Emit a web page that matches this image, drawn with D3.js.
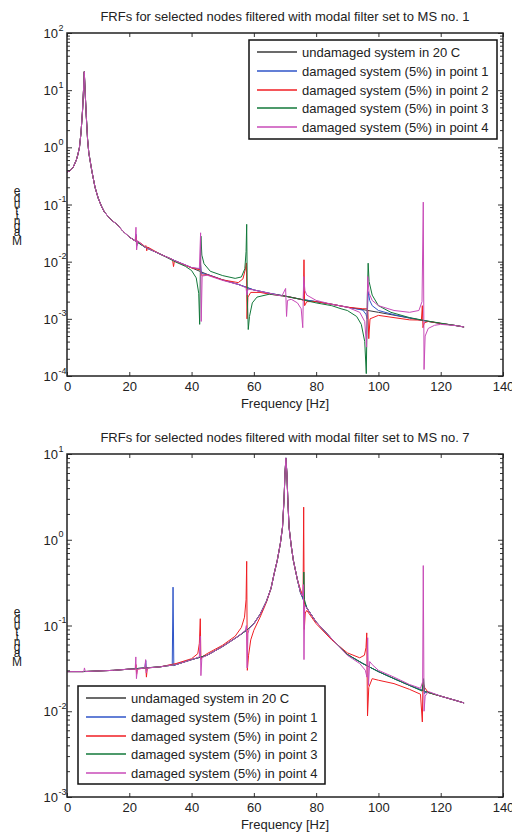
<!DOCTYPE html>
<html>
<head>
<meta charset="utf-8">
<script src="https://cdn.jsdelivr.net/npm/d3@7"></script>
<style>
  body { margin: 0; background: #fff; }
  text { font-family: "Liberation Sans", Arial, Helvetica, sans-serif; fill: #222; }
</style>
</head>
<body>
<svg id="chart"></svg>
<script>
const width = 512;
const height = 832;

const xTickValues = [0, 20, 40, 60, 80, 100, 120, 140];
const seriesLabels = [
    'undamaged system in 20 C',
    'damaged system (5%) in point 1',
    'damaged system (5%) in point 2',
    'damaged system (5%) in point 3',
    'damaged system (5%) in point 4'
];
const seriesColors = ['#3a3a3a', '#2f55c8', '#f01e23', '#12783a', '#c84bb8'];
const titles = [
    'FRFs for selected nodes filtered with modal filter set to MS no. 1',
    'FRFs for selected nodes filtered with modal filter set to MS no. 7'
];
const xLabel = 'Frequency [Hz]';
const yLabelLetters = ['M', 'a', 'g', 'n', 'i', 't', 'u', 'd', 'e'];

// ---- MS no. 1 : [frequency, magnitude]
const ms1Undamaged = [[0,0.37],[1,0.39],[2,0.45],[3,0.6],[3.5,0.75],[4,1.0],[4.5,1.8],[5,4.5],[5.3,10],[5.55,21],[5.8,10],[6.2,3.5],[6.6,1.4],[7,0.8],[8,0.38],[9,0.2],[10,0.13],[11,0.095],[12,0.074],[14,0.055],[16,0.045],[18,0.034],[20,0.027],[22,0.023],[25,0.018],[30,0.0135],[35,0.0102],[40,0.0078],[45,0.006],[50,0.0048],[55,0.004],[60,0.0032],[65,0.0028],[70,0.0025],[75,0.0022],[80,0.002],[85,0.0018],[90,0.0016],[95,0.00145],[100,0.0013],[105,0.00116],[110,0.00103],[115,0.00092],[120,0.00083],[125,0.00076],[127.5,0.00072]];
const ms1Point1 = [[0,0.37],[1,0.39],[2,0.45],[3,0.6],[3.5,0.75],[4,1.0],[4.5,1.8],[5,4.5],[5.3,10],[5.55,21],[5.8,10],[6.2,3.5],[6.6,1.4],[7,0.8],[8,0.38],[9,0.2],[10,0.13],[11,0.095],[12,0.074],[14,0.055],[16,0.045],[18,0.034],[20,0.027],[21.9,0.023],[22.2,0.03],[22.4,0.019],[22.7,0.023],[25,0.018],[30,0.0135],[35,0.0102],[40,0.0079],[42.6,0.0074],[42.9,0.0088],[43.2,0.0062],[45,0.006],[50,0.0048],[55,0.004],[60,0.0032],[65,0.0028],[70,0.0025],[75,0.0022],[80,0.002],[85,0.0018],[90,0.0016],[95,0.00142],[96,0.0012],[96.4,0.001],[96.7,0.003],[97.2,0.0021],[98,0.0017],[100,0.0014],[105,0.00118],[110,0.00104],[115,0.00092],[120,0.00083],[125,0.00076],[127.5,0.00072]];
const ms1Point2 = [[0,0.37],[1,0.39],[2,0.45],[3,0.6],[3.5,0.75],[4,1.0],[4.5,1.8],[5,4.5],[5.3,10],[5.55,21],[5.8,10],[6.2,3.5],[6.6,1.4],[7,0.8],[8,0.38],[9,0.2],[10,0.13],[11,0.095],[12,0.074],[14,0.055],[16,0.045],[18,0.034],[20,0.027],[21.9,0.023],[22.2,0.028],[22.4,0.02],[22.7,0.023],[25,0.0185],[25.4,0.019],[25.6,0.0155],[25.9,0.018],[30,0.0135],[33.9,0.0108],[34.2,0.0082],[34.5,0.0103],[40,0.0078],[42.8,0.0072],[43.1,0.0058],[45,0.0059],[50,0.0048],[55,0.0043],[56.5,0.005],[57.3,0.0075],[57.6,0.0095],[57.8,0.001],[58.1,0.0024],[59,0.0029],[62,0.0029],[65,0.0027],[70,0.0025],[75,0.0022],[75.9,0.0021],[76.1,0.0108],[76.3,0.0017],[77,0.002],[80,0.002],[85,0.0018],[90,0.0016],[95,0.0015],[96.3,0.0015],[96.6,0.0014],[96.9,0.00045],[97.3,0.001],[100,0.00115],[105,0.00105],[110,0.00096],[113.8,0.00095],[114.1,0.0017],[114.3,0.0007],[114.7,0.00085],[116,0.0009],[120,0.00083],[125,0.00076],[127.5,0.00072]];
const ms1Point3 = [[0,0.37],[1,0.39],[2,0.45],[3,0.6],[3.5,0.75],[4,1.0],[4.5,1.8],[5,4.5],[5.3,10],[5.55,21],[5.8,10],[6.2,3.5],[6.6,1.4],[7,0.8],[8,0.38],[9,0.2],[10,0.13],[11,0.095],[12,0.074],[14,0.055],[16,0.045],[18,0.034],[20,0.027],[22,0.023],[25,0.018],[30,0.0135],[35,0.0098],[38,0.0083],[40,0.007],[41.5,0.0052],[42.3,0.0028],[42.6,0.0008],[42.8,0.006],[43.0,0.028],[43.3,0.013],[44,0.0092],[46,0.0068],[50,0.0057],[54,0.0051],[56,0.0054],[57.1,0.0075],[57.5,0.015],[57.7,0.045],[57.9,0.0025],[58.2,0.00065],[58.6,0.0011],[59.5,0.0019],[61,0.0024],[65,0.0027],[70,0.0025],[75,0.0022],[80,0.0019],[85,0.0017],[88,0.0015],[90,0.0014],[93,0.0011],[94.5,0.0008],[95.6,0.0004],[96.1,0.00011],[96.45,0.0025],[96.7,0.0094],[97,0.0045],[98,0.0026],[100,0.0017],[104,0.0013],[110,0.00105],[115,0.00093],[120,0.00084],[125,0.00076],[127.5,0.00072]];
const ms1Point4 = [[0,0.37],[1,0.39],[2,0.45],[3,0.6],[3.5,0.75],[4,1.0],[4.5,1.8],[5,4.5],[5.3,10],[5.55,21],[5.8,10],[6.2,3.5],[6.6,1.4],[7,0.8],[8,0.38],[9,0.2],[10,0.13],[11,0.095],[12,0.074],[14,0.055],[16,0.045],[18,0.034],[20,0.027],[21.9,0.023],[22.15,0.04],[22.35,0.016],[22.7,0.023],[25,0.018],[30,0.0135],[35,0.0102],[40,0.0079],[42.5,0.0076],[42.9,0.032],[43.1,0.0009],[43.4,0.0056],[45,0.0058],[50,0.0047],[55,0.004],[57.5,0.0035],[57.75,0.0026],[58.1,0.0033],[60,0.0032],[65,0.0028],[69,0.0025],[70.2,0.0034],[70.5,0.0011],[70.8,0.0021],[72,0.0022],[74,0.0019],[75.2,0.0015],[75.7,0.0007],[76.0,0.0055],[76.4,0.0031],[77,0.0026],[80,0.0021],[85,0.0018],[90,0.0016],[94,0.0013],[95.6,0.0009],[96.2,0.00032],[96.55,0.0055],[97,0.0028],[98,0.0021],[100,0.0017],[105,0.0014],[110,0.0013],[113,0.0014],[114,0.002],[114.4,0.11],[114.65,0.00013],[115,0.0005],[116,0.00068],[118,0.00077],[120,0.0008],[125,0.00076],[127.5,0.00072]];

// ---- MS no. 7 : [frequency, magnitude]
const ms7Undamaged = [[0,0.029],[5,0.029],[10,0.0295],[15,0.030],[20,0.031],[25,0.032],[30,0.033],[35,0.035],[40,0.040],[45,0.045],[50,0.057],[55,0.075],[58,0.09],[60,0.105],[62,0.135],[64,0.19],[65.5,0.27],[66.5,0.4],[67.5,0.57],[68.5,0.9],[69.2,1.4],[69.7,3],[70.0,6],[70.3,9],[70.6,6],[70.9,3],[71.3,1.4],[72,0.85],[72.7,0.57],[74,0.34],[75,0.24],[77,0.16],[80,0.11],[85,0.07],[90,0.046],[95,0.036],[100,0.029],[105,0.024],[110,0.020],[115,0.017],[120,0.015],[125,0.0133],[127.5,0.0125]];
const ms7Point1 = [[0,0.029],[5,0.029],[10,0.0295],[15,0.030],[20,0.031],[25,0.032],[25.3,0.039],[25.5,0.03],[25.8,0.032],[30,0.033],[33.8,0.035],[34.05,0.28],[34.3,0.034],[35,0.035],[40,0.040],[45,0.045],[50,0.057],[55,0.075],[58,0.09],[60,0.105],[62,0.135],[64,0.19],[65.5,0.27],[66.5,0.4],[67.5,0.57],[68.5,0.9],[69.2,1.4],[69.7,3],[70.0,6],[70.3,9],[70.6,6],[70.9,3],[71.3,1.4],[72,0.85],[72.7,0.57],[74,0.34],[75,0.24],[77,0.16],[80,0.11],[85,0.07],[90,0.046],[95,0.036],[100,0.029],[105,0.024],[110,0.020],[114,0.0175],[114.5,0.02],[114.8,0.016],[115.5,0.017],[120,0.015],[125,0.0133],[127.5,0.0125]];
const ms7Point2 = [[0,0.029],[5,0.029],[10,0.0295],[15,0.030],[20,0.031],[21.9,0.031],[22.15,0.035],[22.35,0.027],[22.6,0.031],[25,0.032],[25.3,0.033],[25.5,0.025],[25.8,0.032],[30,0.033],[35,0.036],[40,0.041],[42,0.047],[42.5,0.062],[42.8,0.12],[43.0,0.04],[43.4,0.043],[45,0.047],[50,0.059],[54,0.075],[56,0.095],[57,0.125],[57.5,0.2],[57.7,0.56],[57.9,0.03],[58.3,0.045],[59,0.068],[60,0.088],[62,0.125],[64,0.185],[65.5,0.27],[66.5,0.4],[67.5,0.57],[68.5,0.9],[69.2,1.4],[69.7,3],[70.0,6],[70.3,8.8],[70.6,6],[70.9,3],[71.3,1.4],[72,0.85],[72.7,0.57],[74,0.34],[75,0.26],[75.8,0.22],[76.0,2.4],[76.2,0.09],[76.5,0.14],[77,0.15],[80,0.105],[85,0.068],[90,0.048],[94,0.042],[95.5,0.045],[96,0.055],[96.25,0.082],[96.5,0.0088],[96.9,0.019],[98,0.024],[100,0.023],[105,0.021],[110,0.018],[113.5,0.0158],[114.1,0.0075],[114.3,0.022],[114.8,0.019],[116,0.0165],[120,0.015],[125,0.0133],[127.5,0.0125]];
const ms7Point3 = [[0,0.029],[5,0.029],[10,0.0295],[15,0.030],[20,0.031],[25,0.032],[30,0.033],[35,0.035],[40,0.040],[45,0.045],[50,0.057],[55,0.075],[58,0.09],[60,0.105],[62,0.135],[64,0.19],[65.5,0.27],[66.5,0.4],[67.5,0.57],[68.5,0.9],[69.2,1.4],[69.7,3],[70.0,6],[70.3,9],[70.6,6],[70.9,3],[71.3,1.4],[72,0.85],[72.7,0.57],[74,0.34],[75,0.24],[75.9,0.21],[76.05,0.42],[76.25,0.2],[77,0.16],[80,0.11],[85,0.07],[90,0.046],[95,0.036],[100,0.029],[105,0.024],[110,0.020],[114,0.0172],[114.5,0.024],[114.8,0.017],[120,0.015],[125,0.0133],[127.5,0.0125]];
const ms7Point4 = [[0,0.029],[5,0.029],[5.4,0.029],[5.6,0.032],[5.9,0.029],[10,0.0295],[15,0.030],[20,0.031],[21.9,0.031],[22.1,0.043],[22.3,0.024],[22.6,0.031],[25,0.032],[25.25,0.04],[25.45,0.028],[25.8,0.032],[30,0.033],[35,0.035],[40,0.040],[42.5,0.043],[42.8,0.075],[43.0,0.026],[43.3,0.042],[45,0.045],[50,0.057],[55,0.075],[57.3,0.088],[57.6,0.1],[57.85,0.032],[58.1,0.08],[58.5,0.092],[60,0.105],[62,0.135],[64,0.19],[65.5,0.27],[66.5,0.4],[67.5,0.57],[68.5,0.9],[69.2,1.4],[69.7,3],[70.0,6],[70.3,9],[70.6,6],[70.9,3],[71.3,1.4],[72,0.85],[72.7,0.57],[74,0.34],[75,0.24],[75.6,0.22],[75.9,0.3],[76.1,0.04],[76.3,0.17],[77,0.16],[80,0.11],[85,0.07],[90,0.045],[94,0.036],[95.8,0.03],[96.3,0.025],[96.55,0.072],[96.8,0.02],[97.2,0.038],[98,0.035],[100,0.03],[105,0.025],[110,0.0205],[113.5,0.0185],[114.2,0.022],[114.4,0.5],[114.65,0.01],[115,0.015],[116,0.017],[120,0.015],[125,0.0133],[127.5,0.0125]];

const plotLeft = 67;
const plotRight = 503;

const panels = [
    {
        title: titles[0], titleY: 21, top: 33, bottom: 376,
        yDomain: [1e-4, 1e2],
        series: [ms1Undamaged, ms1Point1, ms1Point2, ms1Point3, ms1Point4],
        legend: {x: 249, y: 40, w: 248, h: 99}
    },
    {
        title: titles[1], titleY: 442, top: 454, bottom: 797,
        yDomain: [1e-3, 1e1],
        series: [ms7Undamaged, ms7Point1, ms7Point2, ms7Point3, ms7Point4],
        legend: {x: 78, y: 686, w: 247, h: 98}
    }
];

const svg = d3.select('#chart')
    .attr('width', width)
    .attr('height', height);

svg.append('rect')
    .attr('width', width)
    .attr('height', height)
    .attr('fill', '#fff');

const drawPanel = (p, idx) => {
    const xScale = d3.scaleLinear()
        .domain([0, 140])
        .range([plotLeft, plotRight]);

    const yScale = d3.scaleLog()
        .domain(p.yDomain)
        .range([p.bottom, p.top]);

    const clipId = 'clip' + idx;
    svg.append('clipPath')
        .attr('id', clipId)
        .append('rect')
        .attr('x', plotLeft)
        .attr('y', p.top)
        .attr('width', plotRight - plotLeft)
        .attr('height', p.bottom - p.top);

    const line = d3.line()
        .x(d => xScale(d[0]))
        .y(d => yScale(d[1]));

    svg.append('g')
        .attr('clip-path', 'url(#' + clipId + ')')
        .selectAll('path')
        .data(p.series)
        .enter()
        .append('path')
        .attr('d', d => line(d))
        .attr('fill', 'none')
        .attr('stroke', (d, i) => seriesColors[i])
        .attr('stroke-width', 1)
        .attr('stroke-linejoin', 'round');

    // axes
    const allTicks = yScale.ticks();
    const majors = allTicks.filter(v => Math.abs(Math.log10(v) - Math.round(Math.log10(v))) < 1e-9);
    const minors = allTicks.filter(v => !majors.includes(v));

    const styleAxis = g => {
        g.select('.domain').remove();
        g.selectAll('.tick line').attr('stroke', '#333');
        g.selectAll('.tick text')
            .attr('fill', '#222')
            .style('font-size', '13px')
            .style('font-family', '"Liberation Sans", Arial, sans-serif');
    };

    svg.append('g')
        .attr('transform', 'translate(0,' + p.bottom + ')')
        .call(d3.axisBottom(xScale).tickValues(xTickValues).tickSizeInner(-4).tickSizeOuter(0).tickPadding(6))
        .call(styleAxis);

    svg.append('g')
        .attr('transform', 'translate(0,' + p.top + ')')
        .call(d3.axisTop(xScale).tickValues(xTickValues).tickSizeInner(-4).tickSizeOuter(0).tickFormat(''))
        .call(styleAxis);

    [[d3.axisLeft, plotLeft], [d3.axisRight, plotRight]].forEach(([axisFn, pos]) => {
        svg.append('g')
            .attr('transform', 'translate(' + pos + ',0)')
            .call(axisFn(yScale).tickValues(majors).tickSizeInner(-5).tickSizeOuter(0).tickFormat(''))
            .call(styleAxis);
        svg.append('g')
            .attr('transform', 'translate(' + pos + ',0)')
            .call(axisFn(yScale).tickValues(minors).tickSizeInner(-3).tickSizeOuter(0).tickFormat(''))
            .call(styleAxis);
    });

    svg.append('rect')
        .attr('x', plotLeft)
        .attr('y', p.top)
        .attr('width', plotRight - plotLeft)
        .attr('height', p.bottom - p.top)
        .attr('fill', 'none')
        .attr('stroke', '#222')
        .attr('stroke-width', 1.5);

    // y tick labels 10^n
    majors.forEach(v => {
        const exp = Math.round(Math.log10(v));
        svg.append('text')
            .attr('x', 58)
            .attr('y', yScale(v) + 5)
            .attr('text-anchor', 'end')
            .style('font-size', '13px')
            .text('10');
        svg.append('text')
            .attr('x', 58.5)
            .attr('y', yScale(v) - 2.5)
            .style('font-size', '9px')
            .text(exp);
    });

    // title
    svg.append('text')
        .attr('x', (plotLeft + plotRight) / 2)
        .attr('y', p.titleY)
        .attr('text-anchor', 'middle')
        .style('font-size', '13px')
        .text(p.title);

    // x label
    svg.append('text')
        .attr('x', (plotLeft + plotRight) / 2)
        .attr('y', p.bottom + 32)
        .attr('text-anchor', 'middle')
        .style('font-size', '13px')
        .text(xLabel);

    // y label, letters stacked as in the original export
    const yOffsets = [0, -9, -15, -20, -25, -30, -37, -43, -50];
    const yl = svg.append('text')
        .attr('text-anchor', 'middle')
        .style('font-size', '12px');
    yLabelLetters.forEach((ch, i) => {
        yl.append('tspan')
            .attr('x', 17)
            .attr('y', p.top + 212 + yOffsets[i])
            .text(ch);
    });

    // legend
    const lg = svg.append('g')
        .attr('transform', 'translate(' + p.legend.x + ',' + p.legend.y + ')');
    lg.append('rect')
        .attr('width', p.legend.w)
        .attr('height', p.legend.h)
        .attr('fill', '#fff')
        .attr('stroke', '#111')
        .attr('stroke-width', 1.5);
    seriesLabels.forEach((label, i) => {
        const cy = Math.round(12 + i * 18.75);
        lg.append('line')
            .attr('x1', 8)
            .attr('x2', 48)
            .attr('y1', cy)
            .attr('y2', cy)
            .attr('stroke', seriesColors[i])
            .attr('stroke-width', 1.6);
        lg.append('text')
            .attr('x', 53)
            .attr('y', cy + 4.5)
            .style('font-size', '13px')
            .text(label);
    });
};

panels.forEach(drawPanel);
</script>
</body>
</html>
